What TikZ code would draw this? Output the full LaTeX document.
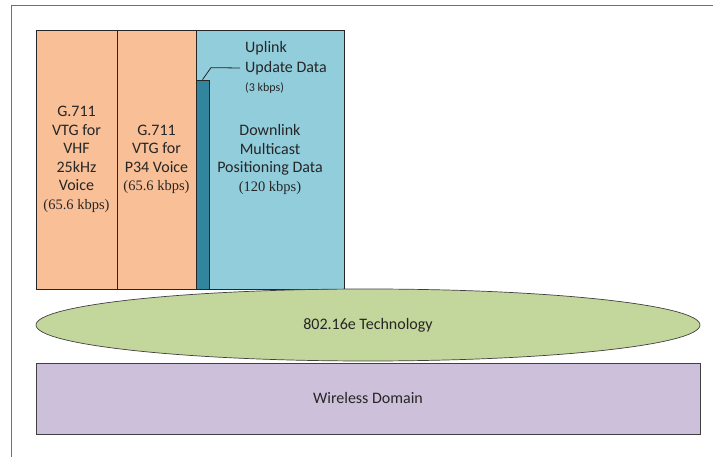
\documentclass[tikz,border=0pt]{standalone}
\usepackage{fontspec}
\setmainfont{Carlito}
\newfontfamily\timesfont{Liberation Serif}
\usetikzlibrary{shapes.geometric}
\definecolor{peach}{HTML}{F9BF97}
\definecolor{skyblue}{HTML}{92CDDC}
\definecolor{darkteal}{HTML}{31859C}
\definecolor{olivegreen}{HTML}{C3D69B}
\definecolor{lavender}{HTML}{CCC0DA}
\definecolor{framegray}{HTML}{707070}
\newcommand{\ratetext}[1]{{\timesfont\fontsize{14.5}{19}\selectfont #1}}
\begin{document}
\begin{tikzpicture}[x=1pt,y=-1pt,
  box/.style={draw=black!85,line width=0.7pt,inner sep=0pt,align=center,text=black!85,font=\fontsize{16}{18.5}\selectfont},
  lbl/.style={inner sep=2pt,anchor=west,text=black!85,font=\fontsize{16}{19}\selectfont}]
\useasboundingbox (0,0) rectangle (713,457);
\draw[framegray,line width=1.5pt] (11.5,457) -- (11.5,5.7) -- (713,5.7);
\node at (76.5,159.5) [box,fill=peach,minimum width=81,minimum height=259] (vhf) {G.711\\VTG for\\VHF\\25kHz\\Voice\\\ratetext{(65.6 kbps)}};
\node at (156.5,159.5) [box,fill=peach,minimum width=79,minimum height=259] (p34) {G.711\\VTG for\\P34 Voice\\\ratetext{(65.6 kbps)}};
\node at (270,159.5) [box,fill=skyblue,minimum width=148,minimum height=259] (downlink) {Downlink\\Multicast\\Positioning Data\\\ratetext{(120 kbps)}};
\node at (202.5,184.5) [box,fill=darkteal,minimum width=13,minimum height=209] (uplinkbar) {};
\node at (243,48) [lbl] (uplink) {Uplink};
\node at (240,68) [lbl,inner xsep=5pt] (update) {Update Data};
\node at (243,88) [lbl,font=\fontsize{12}{15}\selectfont] (upkbps) {(3 kbps)};
\draw[black!85,line width=0.8pt] (uplinkbar.north) -- ++(8.5,-12) -- (update.west);
\node at (368,325) [box,ellipse,fill=olivegreen,draw=black!75,minimum width=664,minimum height=72] (tech) {802.16e Technology};
\node at (368,398.5) [box,fill=lavender,draw=black!75,minimum width=664,minimum height=71] (wireless) {Wireless Domain};
\end{tikzpicture}
\end{document}
